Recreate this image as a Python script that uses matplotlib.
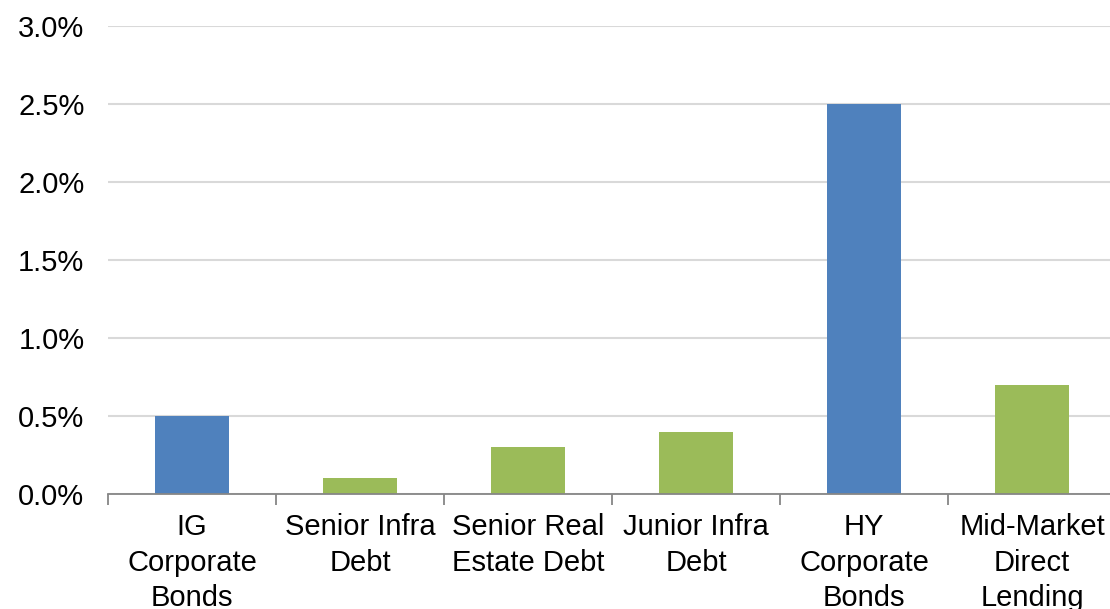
import numpy as np
import matplotlib.pyplot as plt
from matplotlib.ticker import FuncFormatter, FixedLocator

plt.rcParams['font.family'] = ['Liberation Sans', 'DejaVu Sans']

# Loss rates by asset class
categories = ['IG\nCorporate\nBonds', 'Senior Infra\nDebt', 'Senior Real\nEstate Debt',
              'Junior Infra\nDebt', 'HY\nCorporate\nBonds', 'Mid-Market\nDirect\nLending']
values = [0.5, 0.1, 0.3, 0.4, 2.5, 0.7]
colors = ['#4F81BD', '#9BBB59', '#9BBB59', '#9BBB59', '#4F81BD', '#9BBB59']

fig = plt.figure(figsize=(11.1, 6.09), dpi=100)
ax = fig.add_axes([108 / 1110, 115 / 609, 1008 / 1110, 468 / 609])

x = np.arange(len(categories))
ax.bar(x, values, width=0.44, color=colors, zorder=3)

ax.set_xlim(-0.5, len(categories) - 0.5)
ax.set_ylim(0, 3.0)
ax.set_yticks(np.arange(0, 3.01, 0.5))
ax.yaxis.set_major_formatter(FuncFormatter(lambda v, p: f'{v:.1f}%'))
ax.grid(axis='y', color='#D9D9D9', linewidth=1.5, zorder=0)

ax.set_xticks(x)
ax.set_xticklabels(categories, fontsize=21, linespacing=1.34)
ax.xaxis.set_minor_locator(FixedLocator(np.arange(-0.5, len(categories), 1.0)))
ax.tick_params(axis='x', which='major', length=0, pad=14)
ax.tick_params(axis='x', which='minor', length=8, color='#868686', width=1.3)
ax.tick_params(axis='y', length=0, labelsize=21, pad=17)

for side in ['top', 'right', 'left']:
    ax.spines[side].set_visible(False)
ax.spines['bottom'].set_color('#868686')
ax.spines['bottom'].set_linewidth(1.3)
ax.spines['bottom'].set_zorder(4)

fig.savefig('out.png', dpi=100)
